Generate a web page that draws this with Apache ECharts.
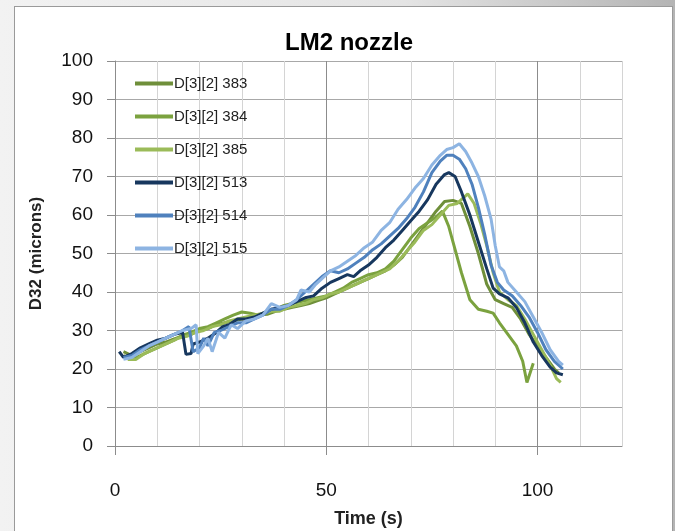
<!DOCTYPE html>
<html>
<head>
<meta charset="utf-8">
<script src="https://cdn.jsdelivr.net/npm/echarts@6/dist/echarts.min.js"></script>
<style>
  html, body { margin: 0; padding: 0; }
  body {
    width: 675px; height: 531px; overflow: hidden;
    background: linear-gradient(90deg, #f2f2f2 0%, #e4e4e4 60%, #b4b4b4 100%);
    position: relative;
  }
  .box {
    position: absolute; left: 14px; top: 6px; width: 657px; height: 540px;
    background: #fff; border: 1px solid #9a9a9a;
  }
  #chart { position: absolute; left: 0; top: 0; width: 675px; height: 531px; }
</style>
</head>
<body>
<div class="box"></div>
<div id="chart"></div>
<script>
// series names and colours
const seriesNames = ['D[3][2] 383', 'D[3][2] 384', 'D[3][2] 385', 'D[3][2] 513', 'D[3][2] 514', 'D[3][2] 515']
const seriesColors = ['#6f8f3a', '#7ba23f', '#9bbb59', '#17375e', '#4f81bd', '#8db4e2']

// time (s) and D32 (microns)
const t383 = [2,4,6,8,10,12,14,16,18,20,22,24,26,28,30,32,34,36,38,40,42,44,46,48,50,52,54,56,58,60,62,64,66,68,70,72,74,76,78,80,82,84,86,88,90,92,94,96,98,100,102,104,105]
const d383 = [24.5,23.5,24.5,25.5,26.5,27,27.8,28.5,29,30,30.5,31.5,32,32.5,33,33.5,34,34.2,35,35.5,36,36.5,37,37.8,38.5,39.5,40.5,41.5,42.5,43.5,44.5,45.5,47,49,52,55,58,61,63.5,63.8,63,57,50,42,38,37,36,33,29,26,23,20,19]

const t384 = [2,4,6,8,10,12,14,16,18,20,22,24,26,28,30,32,34,36,38,40,42,44,46,48,50,52,54,56,58,60,62,64,66,68,70,72,74,76,77.5,79,80.5,82,84,86,88,89.5,91,93,95,96.5,97.5,99]
const d384 = [23.5,22.5,23.5,24.5,25.5,26.5,27.5,28.8,29.5,30.5,31,32,33,34,34.8,34.5,34,34.5,35.5,36.5,37,37.5,38,38.5,39,40,41,42.5,43.5,44.5,45,46,48,51,54,56.5,58,59.5,61,57,51,45,38,35.5,35,34.5,32,29,26,22,16.5,21.5]

const t385 = [3,5,7,9,11,13,15,17,19,21,23,25,27,29,31,33,35,37,39,41,43,45,47,49,51,53,55,57,59,61,63,65,67,69,71,73,75,77,79,81,82.5,83.5,85,86.5,88,89.5,91,93,95,97,99,101,103,104.5,105.5]
const d385 = [22.5,22.5,24,25,26,27,28,28.5,29.5,30,31,31.5,32.5,33,33.5,34,34.5,35,35,36,36.5,37,38,38.5,39.5,40,41,42,43,44,45,46,48,50.5,53,56,57.5,60,62.5,63,64.5,65.5,63,58,52,45,40,38,36.5,33,29,25,21,17.5,16.5]

const t513 = [1,2,4,6,8,10,12,14,16,16.8,18,18.5,20,22,24,25.5,27,29,31,33,35,37,39,41,43,45,47,49,51,53,55,56.5,58,60,62,64,66,68,70,72,74,76,78,79,80.5,82,84,86,88,89.5,91,93,95,97,99,101,103,104.5,106]
const d513 = [24.5,23,24,25.5,26.5,27.5,28,29,29.5,23.8,24,26.5,27,28,29.5,31,31.5,33,33,33.5,34.5,35.5,36,36.5,37.5,38.5,39,41,42.5,43.5,44.5,44,45.5,47,49,51.5,53.5,56,58.5,61,64,68,70.5,71,70,66,60,53,46,41,39.5,38.5,36,32,27,23.5,20.5,19,18.5]

const t514 = [2,4,6,8,10,12,14,16,17.5,18.5,20,21,22,23.5,25,27,29,31,33,35,37,39,41,43,45,47,49,51,53,55,57,59,61,63,65,67,69,71,73,75,77,78.5,80,81.5,83,84.5,86,87.5,89,90.5,92,94,96,98,100,102,104,106]
const d514 = [23,23.5,25,26,27,28,29,30,31,24.5,25.5,28,26,29.5,30,31,32,32,33,34,35.5,35.5,36.5,38,40,42,44,45.5,45,46,47.5,49,51,52.5,54.5,56.5,59,62,66,71,74,75.5,75.5,74.5,72,68,62,55,47,42.5,40.5,39,36.5,33.5,29.5,25,22,20]

const t515 = [2,4,6,8,10,12,14,16,18,19.2,19.6,21,22,23,24.5,26,27.5,29,31,33,35,37,39,41,43,44,46,47.5,49.5,51,53,55,57,59,61,63,65,67,69,71,73,75,77,78.5,80,81.5,83,84.5,86,87.5,89,90,91,92,93,95,97,99,101,103,105,106]
const d515 = [22.5,23,24.5,26,27,28,29,30,30.5,31.5,24,26,28,24.5,29.5,28,31.5,30.5,32.5,33,34,37,36,36.5,38,40.5,40,42,44,45.5,46.5,48,49.5,51.5,53,56,58,61.5,64,67,69.5,73,75.5,77,77.5,78.5,76.5,73.5,70,65,59,52,46.5,45.5,42.5,40,37.5,33.5,29.5,25,22,21]

const times = [t383, t384, t385, t513, t514, t515]
const values = [d383, d384, d385, d513, d514, d515]

// axis ticks
const xLabelTicks = [0, 50, 100]

const font = 'Liberation Sans, Arial, sans-serif'
const chart = echarts.init(document.getElementById('chart'))

const series = seriesNames.map((name, i) => ({
  name: name,
  type: 'line',
  symbol: 'none',
  smooth: false,
  xAxisIndex: 0,
  data: times[i].map((t, k) => [t, values[i][k]]),
  lineStyle: { width: 3, color: seriesColors[i] },
  itemStyle: { color: seriesColors[i] }
}))

const option = {
  animation: false,
  backgroundColor: 'transparent',
  textStyle: { fontFamily: font },
  title: {
    text: 'LM2 nozzle',
    left: 344,
    textAlign: 'center',
    top: 26,
    textStyle: { fontSize: 24, fontWeight: 'bold', color: '#000', fontFamily: font }
  },
  legend: {
    orient: 'vertical',
    left: 130,
    top: 71,
    itemWidth: 38,
    itemHeight: 4,
    itemGap: 18,
    icon: 'rect',
    textStyle: { fontSize: 15, color: '#222', padding: [0, 0, 0, -4] },
    data: seriesNames
  },
  grid: { left: 115, right: 53, top: 61, bottom: 85, outerBoundsMode: 'none' },
  xAxis: [
    {
      // grid lines every 10, darker every 50
      type: 'value',
      min: 0,
      max: 120,
      interval: 10,
      position: 'bottom',
      axisLine: { show: false },
      axisTick: { show: false },
      axisLabel: { show: false },
      splitLine: {
        show: true,
        lineStyle: { color: ['#8c8c8c', '#d4d4d4', '#d4d4d4', '#d4d4d4', '#d4d4d4'], width: 1 }
      }
    },
    {
      type: 'value',
      min: 0,
      max: 120,
      position: 'bottom',
      name: 'Time (s)',
      nameLocation: 'middle',
      nameGap: 64,
      nameTextStyle: { fontSize: 18, fontWeight: 'bold', color: '#222' },
      axisLine: { show: true, onZero: false, lineStyle: { color: '#8c8c8c', width: 1 } },
      axisTick: { show: true, length: 9, customValues: xLabelTicks, lineStyle: { color: '#8c8c8c' } },
      axisLabel: { customValues: xLabelTicks, margin: 35, fontSize: 19, color: '#111' },
      splitLine: { show: false }
    }
  ],
  yAxis: {
    type: 'value',
    min: 0,
    max: 100,
    interval: 10,
    name: 'D32 (microns)',
    nameLocation: 'middle',
    nameGap: 70,
    nameTextStyle: { fontSize: 17, fontWeight: 'bold', color: '#222' },
    axisLine: { show: true, lineStyle: { color: '#8c8c8c', width: 1 } },
    axisTick: { show: true, length: 8, lineStyle: { color: '#8c8c8c' } },
    axisLabel: { margin: 22, fontSize: 19, color: '#111' },
    splitLine: { show: true, lineStyle: { color: '#a8a8a8', width: 1 } }
  },
  series: series
}

chart.setOption(option)
</script>
</body>
</html>
